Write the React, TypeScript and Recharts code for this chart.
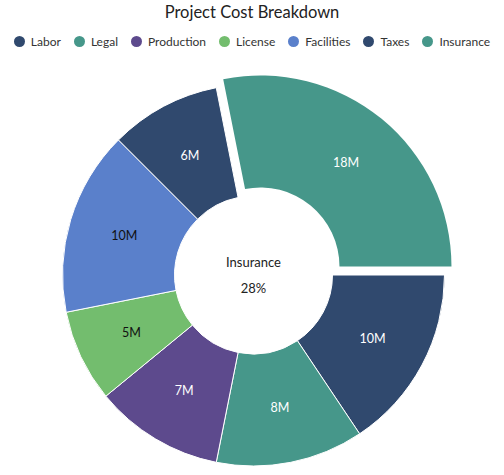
import React from 'react';
import { PieChart, Pie, Cell } from 'recharts';

const categories = ['Labor', 'Legal', 'Production', 'License', 'Facilities', 'Taxes', 'Insurance'];
const costs = [10, 8, 7, 5, 10, 6, 18];
const colors = ['#30496e', '#46978a', '#5d4a8d', '#73bd6e', '#5a80cb', '#30496e', '#46978a'];
const labelColors = ['#fff', '#fff', '#fff', '#111', '#111', '#fff', '#fff'];
const explodedIndex = 6;

const data = categories.map((name, i) => ({ name, value: costs[i] }));
const total = costs.reduce((a, b) => a + b, 0);

const FONT = "Lato, 'Noto Sans', sans-serif";
const CX = 253.5;
const CY = 275;
const EXPLODE = 11;
const RAD = Math.PI / 180;

// mid angle of the exploded slice (clockwise from 3 o'clock)
const before = costs.slice(0, explodedIndex).reduce((a, b) => a + b, 0);
const midDeg = -((before + costs[explodedIndex] / 2) / total) * 360;
const dx = Math.cos(-midDeg * RAD) * EXPLODE;
const dy = Math.sin(-midDeg * RAD) * EXPLODE;

const makeLabel = (only: 'rest' | 'exploded') => (props: any) => {
  const { cx, cy, midAngle, innerRadius, outerRadius, value, index } = props;
  const isExp = index === explodedIndex;
  if ((only === 'rest' && isExp) || (only === 'exploded' && !isExp)) return null;
  const r = (innerRadius + outerRadius) / 2;
  const x = cx + Math.cos(-midAngle * RAD) * r;
  const y = cy + Math.sin(-midAngle * RAD) * r;
  return (
    <text x={x} y={y} fill={labelColors[index]} textAnchor="middle" dominantBaseline="central"
      style={{ fontFamily: FONT, fontSize: 12.5 }}>
      {value}M
    </text>
  );
};

const App: React.FC = () => (
  <div style={{ position: 'absolute', left: 0, top: 0, width: 504, height: 475, background: '#fff', fontFamily: FONT }}>
    <div style={{ position: 'absolute', top: 2, left: 0, width: 504, textAlign: 'center', fontSize: 16.5, color: '#222' }}>
      Project Cost Breakdown
    </div>
    <div style={{ position: 'absolute', top: 34, left: 0, width: 504, display: 'flex', justifyContent: 'center', gap: 13, fontSize: 12, color: '#333', whiteSpace: 'nowrap' }}>
      {categories.map((c, i) => (
        <div key={c} style={{ display: 'flex', alignItems: 'center', gap: 6 }}>
          <span style={{ width: 11, height: 11, borderRadius: '50%', background: colors[i], display: 'inline-block', flexShrink: 0 }} />
          <span>{c}</span>
        </div>
      ))}
    </div>
    <PieChart width={504} height={475} margin={{ top: 0, right: 0, bottom: 0, left: 0 }}>
      <Pie data={data} dataKey="value" nameKey="name" cx={CX} cy={CY} innerRadius={79} outerRadius={191}
        startAngle={0} endAngle={-360} stroke="#fff" strokeWidth={1} labelLine={false}
        label={makeLabel('rest')} isAnimationActive={false}>
        {data.map((d, i) => (
          <Cell key={d.name} fill={i === explodedIndex ? 'none' : colors[i]} stroke={i === explodedIndex ? 'none' : '#fff'} />
        ))}
      </Pie>
      <Pie data={data} dataKey="value" nameKey="name" cx={CX + dx} cy={CY + dy} innerRadius={79} outerRadius={191}
        startAngle={0} endAngle={-360} stroke="none" labelLine={false}
        label={makeLabel('exploded')} isAnimationActive={false}>
        {data.map((d, i) => (
          <Cell key={d.name} fill={i === explodedIndex ? colors[i] : 'none'} />
        ))}
      </Pie>
      <text x={CX} y={262} textAnchor="middle" dominantBaseline="central" fill="#222" style={{ fontFamily: FONT, fontSize: 13 }}>
        {categories[explodedIndex]}
      </text>
      <text x={CX} y={288} textAnchor="middle" dominantBaseline="central" fill="#222" style={{ fontFamily: FONT, fontSize: 13 }}>
        {Math.round((costs[explodedIndex] / total) * 100)}%
      </text>
    </PieChart>
  </div>
);

export default App;
